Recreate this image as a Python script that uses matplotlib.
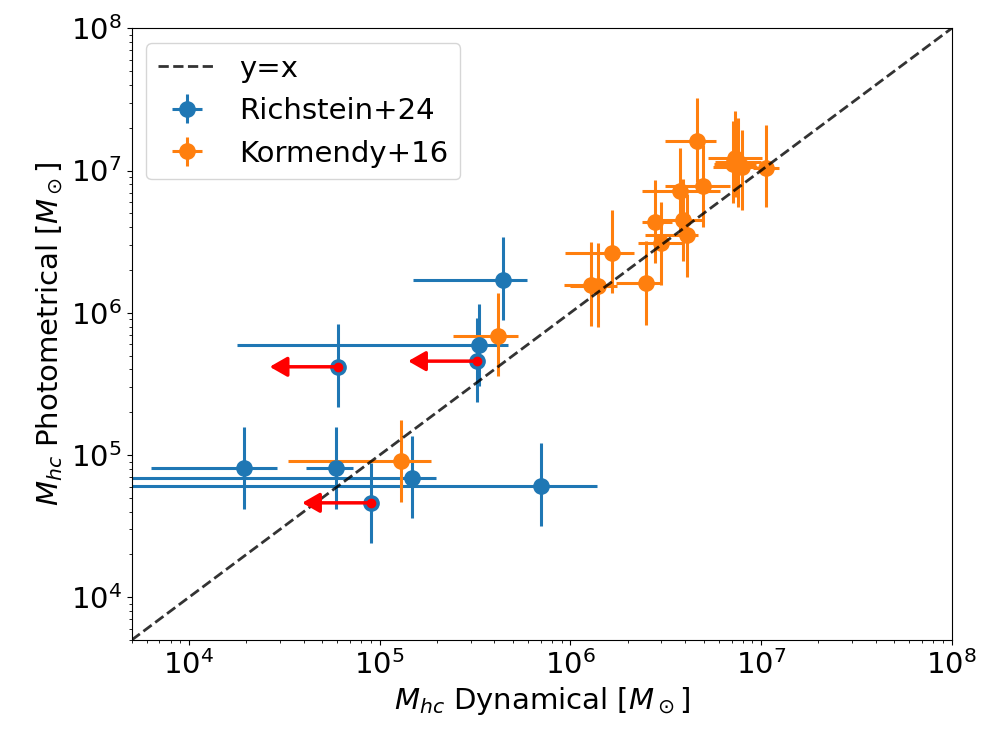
import numpy as np
import matplotlib.pyplot as plt

plt.rcParams['font.size'] = 21

# ---- Richstein+24 (blue) ----
# errors given in dex (lower, upper) around each value
r_x = [4.45e5, 3.33e5, 1.94e4, 5.9e4, 1.48e5, 7.0e5]
r_y = [1.70e6, 5.93e5, 8.12e4, 8.1e4, 6.84e4, 6.04e4]
r_xlo = [0.473, 1.27, 0.488, 0.157, 2.5, 2.5]
r_xhi = [0.122, 0.152, 0.175, 0.087, 0.124, 0.294]
r_ylo = [0.28, 0.29, 0.29, 0.29, 0.28, 0.28]
r_yhi = [0.30, 0.29, 0.29, 0.29, 0.30, 0.30]

# Richstein+24 upper limits in dynamical mass (red arrows)
ul_x = [3.23e5, 6.07e4, 8.98e4]
ul_y = [4.57e5, 4.17e5, 4.61e4]
ul_ylo = [0.29, 0.28, 0.28]
ul_yhi = [0.30, 0.30, 0.28]
ul_len = 0.36  # dex

# ---- Kormendy+16 (orange) ----
k_x = [4.16e5, 1.30e5, 1.65e6, 1.29e6, 1.40e6, 2.49e6, 2.78e6, 3.00e6,
       4.07e6, 3.90e6, 3.76e6, 4.98e6, 4.64e6, 7.3e6, 7.6e6, 7.9e6,
       7.1e6, 1.06e7]
k_y = [6.85e5, 9.06e4, 2.64e6, 1.57e6, 1.54e6, 1.61e6, 4.37e6, 3.08e6,
       3.50e6, 4.50e6, 7.20e6, 7.78e6, 1.62e7, 1.22e7, 1.15e7, 1.06e7,
       1.12e7, 1.05e7]
k_xlo = [0.236, 0.595, 0.247, 0.142, 0.148, 0.156, 0.07, 0.12,
         0.22, 0.12, 0.197, 0.20, 0.17, 0.14, 0.12, 0.15,
         0.10, 0.07]
k_xhi = [0.108, 0.155, 0.116, 0.10, 0.10, 0.083, 0.087, 0.12,
         0.06, 0.10, 0.21, 0.14, 0.096, 0.14, 0.12, 0.08,
         0.12, 0.07]
k_ylo = [0.28, 0.29, 0.28, 0.29, 0.29, 0.29, 0.29, 0.29,
         0.29, 0.29, 0.29, 0.29, 0.29, 0.27, 0.32, 0.30,
         0.28, 0.28]
k_yhi = [0.30, 0.29, 0.30, 0.30, 0.30, 0.30, 0.29, 0.29,
         0.29, 0.29, 0.30, 0.29, 0.30, 0.33, 0.31, 0.26,
         0.30, 0.30]


def dex_err(v, lo, hi):
    v = np.array(v)
    return np.vstack([v - v / 10**np.array(lo), v * 10**np.array(hi) - v])


fig = plt.figure(figsize=(9.97, 7.46), dpi=100)
ax = fig.add_axes([0.132, 0.142, 0.8226, 0.8201])

lim = [5e3, 1e8]
ax.plot(lim, lim, '--', color='k', alpha=0.8, lw=2, label='y=x', zorder=5)

ax.errorbar(r_x, r_y, xerr=dex_err(r_x, r_xlo, r_xhi), yerr=dex_err(r_y, r_ylo, r_yhi),
            fmt='o', color='#1f77b4', ms=11, lw=2.2, label='Richstein+24')
ax.errorbar(ul_x, ul_y, yerr=dex_err(ul_y, ul_ylo, ul_yhi),
            fmt='o', color='#1f77b4', ms=11, lw=2.2)
ax.errorbar(k_x, k_y, xerr=dex_err(k_x, k_xlo, k_xhi), yerr=dex_err(k_y, k_ylo, k_yhi),
            fmt='o', color='#ff7f0e', ms=11, lw=2.2, label='Kormendy+16')

# upper-limit arrows
for x, y in zip(ul_x, ul_y):
    ax.annotate('', xy=(x / 10**ul_len, y), xytext=(x, y),
                arrowprops=dict(arrowstyle='-|>,head_length=0.7,head_width=0.4',
                                color='red', lw=2.5, shrinkA=0, shrinkB=0,
                                mutation_scale=15), zorder=6)
ax.plot(ul_x, ul_y, 'o', color='red', ms=6, zorder=7)

ax.set_xscale('log')
ax.set_yscale('log')
ax.set_xlim(lim)
ax.set_ylim(lim)
ax.set_xlabel(r'$M_{hc}$ Dynamical [$M_\odot$]')
ax.set_ylabel(r'$M_{hc}$ Photometrical [$M_\odot$]')
ax.legend(loc='upper left')

fig.savefig('out.png', dpi=100)
